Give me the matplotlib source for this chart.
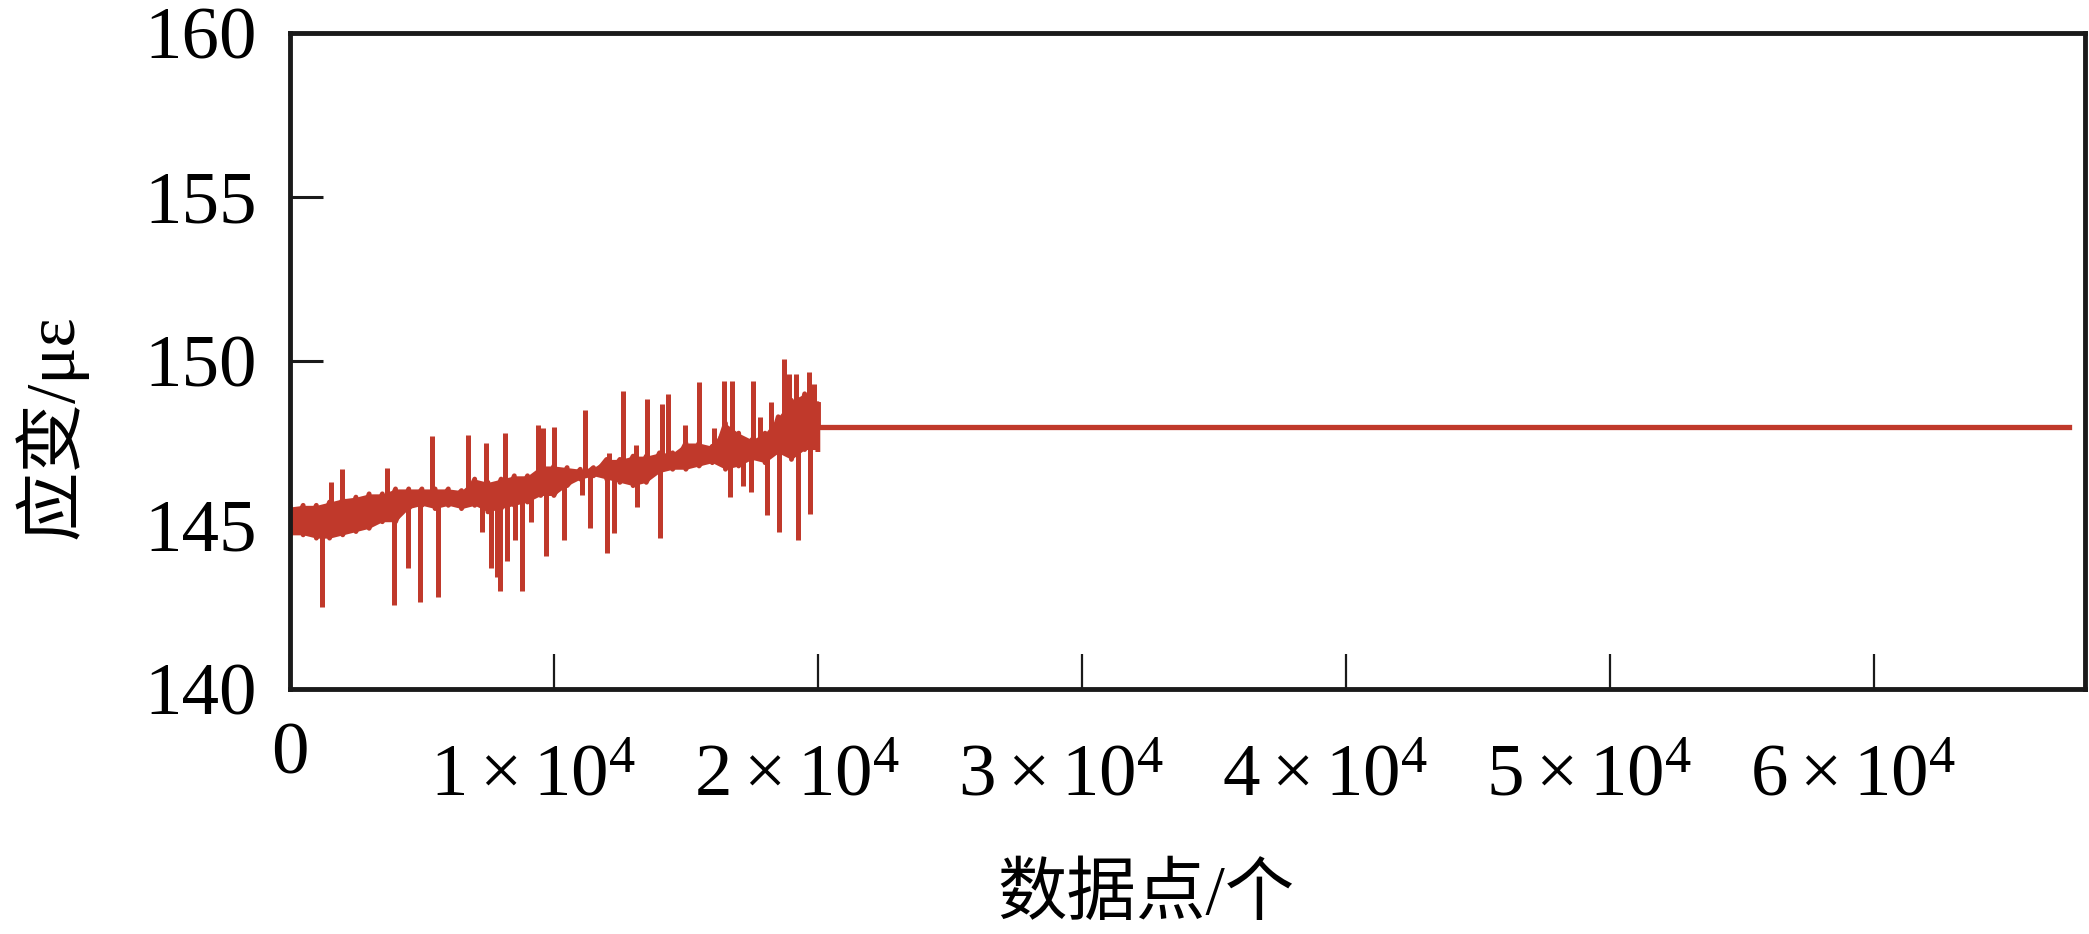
import numpy as np
import matplotlib
matplotlib.use("Agg")
import matplotlib.pyplot as plt
import matplotlib.transforms as mtransforms

# envelope of the dense noise band (first 2x10^4 points)
band_x = list(range(0, 20001, 500))
band_hi = [145.55, 145.6, 145.6, 145.7, 145.8, 145.85, 145.95, 145.95, 146.1, 146.1,
           146.1, 146.1, 146.1, 146.05, 146.4, 146.3, 146.4, 146.5, 146.5, 146.8,
           146.8, 146.75, 146.7, 146.75, 147.0, 147.0, 147.1, 147.1, 147.2, 147.2,
           147.5, 147.5, 147.4, 148.1, 147.8, 147.6, 147.8, 148.3, 148.8, 149.0,
           148.7]
band_lo = [144.7, 144.7, 144.6, 144.6, 144.7, 144.8, 144.9, 145.1, 145.1, 145.5,
           145.6, 145.5, 145.6, 145.5, 145.6, 145.4, 145.5, 145.6, 145.7, 145.9,
           145.9, 146.2, 146.4, 146.5, 146.4, 146.3, 146.2, 146.3, 146.6, 146.7,
           146.7, 146.8, 146.9, 146.7, 146.8, 147.0, 146.9, 147.2, 147.0, 147.3,
           147.3]

# single-sample spikes: position, tip value, band level at that spot
spike_x = [1200, 1540, 1980, 3690, 3940, 4490, 4930, 5370, 5600, 6740,
           7270, 7420, 7620, 7840, 7960, 8130, 8220, 8510, 8810, 9140,
           9390, 9570, 9700, 10000, 10390, 11060, 11190, 11380, 12010, 12070,
           12290, 12610, 13110, 13150, 13540, 14030, 14090, 14320, 14950, 15480,
           16050, 16430, 16690, 16750, 17150, 17450, 17530, 17820, 18070, 18240,
           18520, 18700, 18910, 19170, 19260, 19660, 19720, 19850]
spike_tip = [142.5, 146.3, 146.7, 146.75, 142.55, 143.7, 142.65, 147.7, 142.8, 147.75,
             144.8, 147.5, 143.7, 143.4, 143.0, 147.8, 143.9, 144.55, 143.0, 145.1,
             148.05, 147.95, 144.05, 148.0, 144.55, 145.9, 148.5, 144.9, 144.15, 147.2,
             144.75, 149.1, 147.45, 145.55, 148.85, 144.6, 148.7, 149.0, 148.05, 149.35,
             147.95, 149.4, 145.85, 149.4, 146.2, 146.0, 149.4, 148.3, 145.3, 148.75,
             144.8, 150.05, 149.6, 149.6, 144.55, 149.65, 145.35, 149.3]
spike_base = [145.1, 145.2, 145.3, 145.5, 145.6, 145.8, 145.8, 145.8, 145.8, 145.9,
              146.0, 146.0, 146.0, 146.0, 146.0, 146.0, 146.0, 146.0, 146.1, 146.2,
              146.3, 146.3, 146.3, 146.3, 146.4, 146.5, 146.5, 146.6, 146.7, 146.7,
              146.7, 146.7, 146.7, 146.7, 146.7, 146.9, 146.9, 146.9, 147.0, 147.1,
              147.1, 147.3, 147.3, 147.3, 147.3, 147.3, 147.3, 147.3, 147.4, 147.4,
              147.6, 147.6, 147.8, 147.9, 147.9, 148.0, 148.0, 148.0]

# steady part after 2x10^4
flat_x = [20000, 67400]
flat_y = [148.0, 148.0]

xticks = [0, 10000, 20000, 30000, 40000, 50000, 60000]
xtick_labels = ['0'] + [r'$%d\times10^{4}$' % k for k in range(1, 7)]
yticks = [140, 145, 150, 155, 160]

red = '#c0392b'
serif = 'Liberation Serif'
cjk = [serif, 'Noto Sans CJK SC']

plt.rcParams['mathtext.fontset'] = 'custom'
plt.rcParams['mathtext.rm'] = serif
plt.rcParams['mathtext.it'] = serif

fig = plt.figure(figsize=(20.89, 9.34), dpi=100)
ax = fig.add_axes([0.1388, 0.2623, 0.8592, 0.7024])

# noise band: filled envelope plus zig-zag trace
ax.fill_between(band_x, band_lo, band_hi, color=red, lw=0, zorder=3)
zx, zy = [], []
for x, hi, lo in zip(band_x, band_hi, band_lo):
    zx += [x, x]
    zy += [hi, lo]
ax.plot(zx, zy, color=red, lw=3.5, zorder=3)
ax.vlines(spike_x, spike_base, spike_tip, color=red, lw=3.6, zorder=3)
ax.plot([band_x[-1], flat_x[0]], [band_hi[-1], flat_y[0]], color=red, lw=3.5, zorder=3)
ax.plot(flat_x, flat_y, color=red, lw=3.8, zorder=3)

ax.set_xlim(0, 68000)
ax.set_ylim(140, 160)
ax.set_xticks(xticks)
ax.set_xticklabels(xtick_labels)
ax.set_yticks(yticks)

for s in ax.spines.values():
    s.set_linewidth(3.5)
    s.set_color('#1a1a1a')
    s.set_zorder(4)
ax.tick_params(axis='x', direction='in', length=25, width=1.6, pad=24,
               labelsize=54, color='#1a1a1a')
ax.tick_params(axis='y', direction='in', length=24, width=2.2, pad=24,
               labelsize=54, color='#1a1a1a')
for lab in ax.get_xticklabels() + ax.get_yticklabels():
    lab.set_fontfamily(serif)

ax.set_xlabel('数据点/个', fontsize=50, family=cjk)
ax.set_ylabel('应变/με', fontsize=50, family=cjk)
ax.xaxis.set_label_coords(0.477, -0.268)
ax.yaxis.set_label_coords(-0.113, 0.40)

# the powers-of-ten labels sit lower and a little left of their ticks
fig.canvas.draw()
shift = mtransforms.ScaledTranslation(-15 / 72, -16 / 72, fig.dpi_scale_trans)
for lab in ax.get_xticklabels()[1:]:
    lab.set_transform(lab.get_transform() + shift)

fig.savefig('out.png', dpi=100)
